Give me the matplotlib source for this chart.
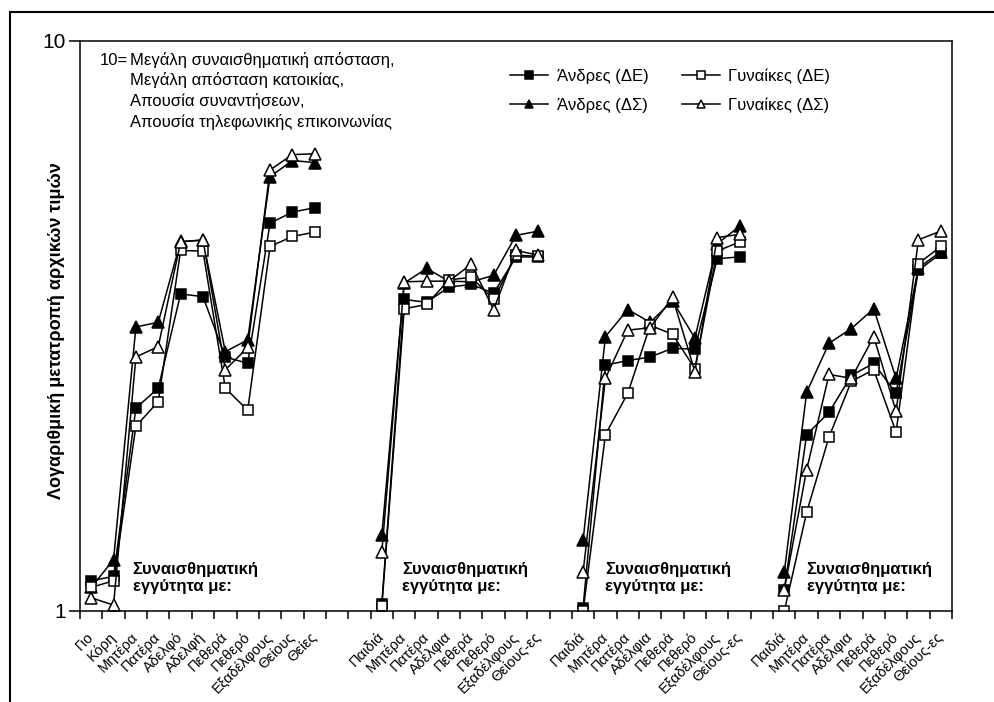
import matplotlib.pyplot as plt
import numpy as np
from matplotlib.lines import Line2D
from matplotlib.ticker import NullLocator

plt.rcParams["font.family"] = ["Liberation Sans", "DejaVu Sans"]

# category labels
cats_kin = ["Γιο", "Κόρη", "Μητέρα", "Πατέρα", "Αδελφό", "Αδελφή", "Πεθερά",
            "Πεθερό", "Εξαδέλφους", "Θείους", "Θείες"]
cats_rel = ["Παιδιά", "Μητέρα", "Πατέρα", "Αδέλφια", "Πεθερά", "Πεθερό",
            "Εξαδέλφους", "Θείους-ες"]
group_start = [0, 13, 22, 31]

# group 1
men_de_1 = [1.13, 1.15, 2.27, 2.46, 3.60, 3.56, 2.79, 2.72, 4.79, 5.01, 5.10]
women_de_1 = [1.10, 1.13, 2.11, 2.33, 4.29, 4.28, 2.46, 2.25, 4.36, 4.54, 4.62]
men_ds_1 = [1.10, 1.23, 3.15, 3.21, 4.45, 4.47, 2.85, 2.99, 5.78, 6.17, 6.12]
women_ds_1 = [1.055, 1.024, 2.79, 2.91, 4.44, 4.48, 2.65, 2.90, 5.94, 6.32, 6.34]

# group 2
men_de_2 = [1.03, 3.52, 3.48, 3.70, 3.74, 3.61, 4.18, 4.18]
women_de_2 = [1.02, 3.39, 3.45, 3.81, 3.85, 3.52, 4.21, 4.19]
men_ds_2 = [1.36, 3.76, 3.99, 3.79, 3.78, 3.88, 4.56, 4.64]
women_ds_2 = [1.27, 3.78, 3.79, 3.79, 4.06, 3.38, 4.29, 4.21]

# group 3
men_de_3 = [1.014, 2.70, 2.75, 2.79, 2.89, 2.88, 4.15, 4.18]
women_de_3 = [1.0, 2.04, 2.41, 3.17, 3.06, 2.66, 4.28, 4.44]
men_ds_3 = [1.33, 3.03, 3.38, 3.21, 3.50, 3.01, 4.41, 4.73]
women_ds_3 = [1.17, 2.56, 3.11, 3.14, 3.55, 2.63, 4.52, 4.58]

# group 4
men_de_4 = [1.09, 2.04, 2.23, 2.59, 2.72, 2.41, 3.96, 4.24]
women_de_4 = [1.0, 1.49, 2.02, 2.53, 2.65, 2.06, 4.07, 4.36]
men_ds_4 = [1.17, 2.42, 2.95, 3.13, 3.39, 2.56, 4.00, 4.27]
women_ds_4 = [1.09, 1.77, 2.60, 2.56, 3.03, 2.24, 4.48, 4.64]

series = [
    ("Άνδρες (ΔΕ)", "s", "black", 7, [men_de_1, men_de_2, men_de_3, men_de_4]),
    ("Άνδρες (ΔΣ)", "^", "black", 8, [men_ds_1, men_ds_2, men_ds_3, men_ds_4]),
    ("Γυναίκες (ΔΕ)", "s", "white", 7, [women_de_1, women_de_2, women_de_3, women_de_4]),
    ("Γυναίκες (ΔΣ)", "^", "white", 8, [women_ds_1, women_ds_2, women_ds_3, women_ds_4]),
]

W, H = 994, 702
fig = plt.figure(figsize=(W / 100, H / 100), dpi=100)
ax = fig.add_axes([80 / W, 1 - 611 / H, 872 / W, 570 / H])

for label, marker, face, ms, groups in series:
    for g, vals in enumerate(groups):
        x = np.arange(len(vals)) + group_start[g]
        ax.plot(x, vals, color="black", linewidth=1.1, marker=marker,
                markersize=ms, markerfacecolor=face, markeredgecolor="black",
                markeredgewidth=1.1, label=label if g == 0 else None)

n_cat = 39
ax.set_xlim(-0.5, n_cat - 0.5)
ax.set_yscale("log")
ax.set_ylim(1, 10)
ax.set_yticks([1, 10])
ax.set_yticklabels(["1", "10"], fontsize=15)
ax.yaxis.set_minor_locator(NullLocator())
ax.tick_params(axis="y", which="major", direction="out", length=8, width=1.1,
               pad=2)

ax.set_xticks(np.arange(n_cat + 1) - 0.5)
ax.set_xticklabels([])
ax.tick_params(axis="x", which="major", direction="out", length=6, width=1.1)
centers, labels = [], []
for g, start in enumerate(group_start):
    names = cats_kin if g == 0 else cats_rel
    centers += list(np.arange(len(names)) + start)
    labels += names
ax.set_xticks(centers, minor=True)
ax.set_xticklabels(labels, minor=True, rotation=45, ha="right",
                   rotation_mode="anchor", va="center", fontsize=10.5)
ax.tick_params(axis="x", which="minor", length=0, pad=17)

for sp in ax.spines.values():
    sp.set_linewidth(1.1)

# group captions
for start in [1.85, 13.9, 23.0, 32.0]:
    ax.text(start, 1.22, "Συναισθηματική\nεγγύτητα με:", fontsize=12,
            fontweight="bold", va="top", ha="left", linespacing=1.2)

# note in the upper left
fig.text(100 / W, 1 - 65 / H, "10=", fontsize=12, va="baseline")
note = ["Μεγάλη συναισθηματική απόσταση,", "Μεγάλη απόσταση κατοικίας,",
        "Απουσία συναντήσεων,", "Απουσία τηλεφωνικής επικοινωνίας"]
for i, line in enumerate(note):
    fig.text(130 / W, 1 - (65 + 20.5 * i) / H, line, fontsize=12, va="baseline")

fig.text(57 / W, 1 - 331 / H, "Λογαριθμική μετατροπή αρχικών τιμών",
         rotation=90, fontsize=13, fontweight="bold", ha="center", va="center")

ax.legend(loc="upper left", bbox_to_anchor=(510 / W, 1 - 68 / H),
          bbox_transform=fig.transFigure, ncol=2, frameon=False, fontsize=12,
          handlelength=2.3, handletextpad=0.5, columnspacing=2.0,
          labelspacing=0.85, borderpad=0, borderaxespad=0, markerscale=0.75)

# outer frame
fig.add_artist(Line2D([10 / W, 10 / W], [0, 1 - 12 / H], color="black",
                      linewidth=1.5, transform=fig.transFigure))
fig.add_artist(Line2D([10 / W, 1], [1 - 12 / H, 1 - 12 / H], color="black",
                      linewidth=1.5, transform=fig.transFigure))

fig.savefig("out.png", dpi=100)
